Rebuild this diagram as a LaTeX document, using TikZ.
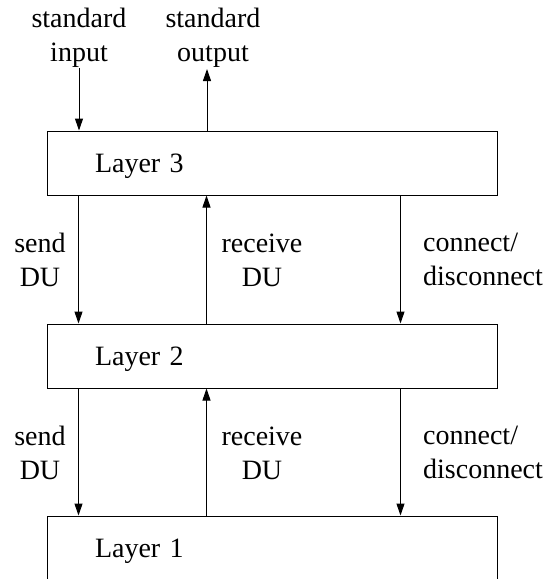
\documentclass[tikz,border=0pt]{standalone}
\usepackage{fontspec}
\setmainfont{Liberation Serif}
\usetikzlibrary{arrows.meta}
\begin{document}
\begin{tikzpicture}[x=1pt,y=-1pt,
  font=\fontsize{28}{34}\selectfont,
  layer/.style={draw, line width=1pt, minimum width=450pt, minimum height=64pt,
    text width=354pt, inner xsep=48pt, inner ysep=0pt, align=left, text depth=0pt},
  arr/.style={line width=1pt, -{Triangle[length=12pt,width=8pt]}},
  lbl/.style={align=center, inner sep=0pt},
  lbll/.style={align=left, inner sep=0pt}]
\useasboundingbox (0,0) rectangle (550,579);
\clip (0,0) rectangle (550,579);
% layers
\node[layer] (L3) at (272,163) {Layer 3};
\node[layer] (L2) at (272,356) {Layer 2};
\node[layer] (L1) at (272,548) {Layer 1};
% top labels
\node[lbl, anchor=north] (si) at (79,8) {standard\\input};
\node[lbl, anchor=north] (so) at (213,8) {standard\\output};
\coordinate (siend) at (79,68);
\coordinate (soend) at (207,69);
\draw[arr] (siend) -- (siend |- L3.north);
\draw[arr] (soend |- L3.north) -- (soend);
% between 3 and 2
\draw[arr] ([xshift=32pt]L3.south west) -- ([xshift=32pt]L2.north west);
\draw[arr] ([xshift=160pt]L2.north west) -- ([xshift=160pt]L3.south west);
\draw[arr] ([xshift=354pt]L3.south west) -- ([xshift=354pt]L2.north west);
\node[lbl] (s3) at (40,260) {send\\DU};
\node[lbl] (r3) at (262,260) {receive\\DU};
\node[lbll, anchor=west] (c3) at (423,259) {connect/\\disconnect};
% between 2 and 1
\draw[arr] ([xshift=32pt]L2.south west) -- ([xshift=32pt]L1.north west);
\draw[arr] ([xshift=160pt]L1.north west) -- ([xshift=160pt]L2.south west);
\draw[arr] ([xshift=354pt]L2.south west) -- ([xshift=354pt]L1.north west);
\node[lbl] (s2) at (40,453) {send\\DU};
\node[lbl] (r2) at (262,453) {receive\\DU};
\node[lbll, anchor=west] (c2) at (423,452) {connect/\\disconnect};
\end{tikzpicture}
\end{document}
